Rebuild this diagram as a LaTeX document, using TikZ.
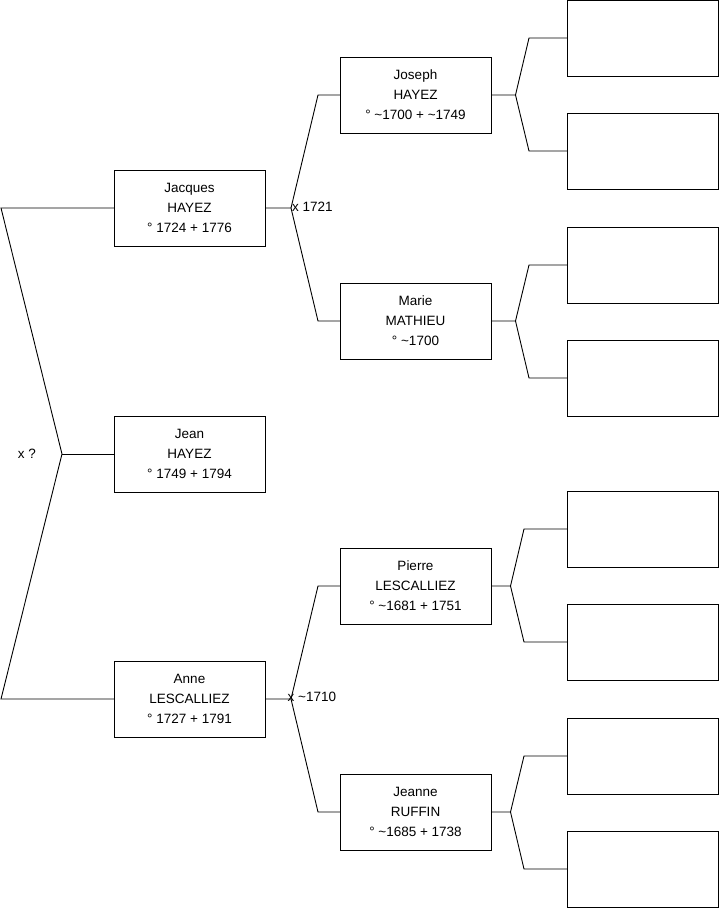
\documentclass[tikz,border=0pt]{standalone}
\usepackage{fontspec}
\setmainfont{Liberation Sans}
\usepackage{tikz}
\usetikzlibrary{positioning, calc}

\begin{document}
\begin{tikzpicture}[x=1pt, y=-1pt, font=\fontsize{13.5}{20}\selectfont]
\tikzstyle{person} = [rectangle, draw=black, fill=white, minimum width=151pt, minimum height=76pt, inner sep=0pt, outer sep=0pt, align=center, line width=0.9pt]
\tikzstyle{line} = [draw, line width=0.9pt, black]
\useasboundingbox (0,0) rectangle (719,908);

% generation 1
\node (jacques) [person] at (189.5,208) {Jacques\\HAYEZ\\° 1724 + 1776};
\node (jean) [person] at (189.5,454) {Jean\\HAYEZ\\° 1749 + 1794};
\node (anne) [person] at (189.5,699) {Anne\\LESCALLIEZ\\° 1727 + 1791};

% generation 2
\node (joseph) [person] at (415.5,95) {Joseph\\HAYEZ\\° \textasciitilde 1700 + \textasciitilde 1749};
\node (marie) [person] at (415.5,321) {Marie\\MATHIEU\\° \textasciitilde 1700};
\node (pierre) [person] at (415.5,586) {Pierre\\LESCALLIEZ\\° \textasciitilde 1681 + 1751};
\node (jeanne) [person] at (415.5,812) {Jeanne\\RUFFIN\\° \textasciitilde 1685 + 1738};

% generation 3 (unknown)
\foreach \y/\n in {38/e1, 151/e2, 265/e3, 378/e4, 529/e5, 642/e6, 756/e7, 869/e8}
  \node (\n) [person] at (642.5,\y) {};

% couple brackets
\coordinate (ptop) at (1,208);
\coordinate (pmid) at (62,454);
\coordinate (pbot) at (1,699);
\draw [line] (jacques.west) -- (ptop) -- (pmid) -- (pbot) -- (anne.west);
\draw [line] (pmid) -- (jean.west);
\node (mjean) [left=26pt of pmid, inner sep=0pt] {x ?};

\coordinate (jv) at (291,208);
\draw [line] (jacques.east) -- (jv) -- ($(joseph.west)+(-22,0)$) -- (joseph.west);
\draw [line] (jv) -- ($(marie.west)+(-22,0)$) -- (marie.west);
\node (mjacques) [anchor=west, inner sep=0pt] at (292,207) {x 1721};

\coordinate (av) at (291,699);
\draw [line] (anne.east) -- (av) -- ($(pierre.west)+(-22,0)$) -- (pierre.west);
\draw [line] (av) -- ($(jeanne.west)+(-22,0)$) -- (jeanne.west);
\node (manne) [anchor=west, inner sep=0pt] at (287.5,697) {x \textasciitilde 1710};

\coordinate (josv) at (515.5,95);
\draw [line] (joseph.east) -- (josv) -- ($(e1.west)+(-38,0)$) -- (e1.west);
\draw [line] (josv) -- ($(e2.west)+(-38,0)$) -- (e2.west);

\coordinate (marv) at (515.5,321);
\draw [line] (marie.east) -- (marv) -- ($(e3.west)+(-38,0)$) -- (e3.west);
\draw [line] (marv) -- ($(e4.west)+(-38,0)$) -- (e4.west);

\coordinate (piev) at (510.5,586);
\draw [line] (pierre.east) -- (piev) -- ($(e5.west)+(-43,0)$) -- (e5.west);
\draw [line] (piev) -- ($(e6.west)+(-43,0)$) -- (e6.west);

\coordinate (jeav) at (510.5,812);
\draw [line] (jeanne.east) -- (jeav) -- ($(e7.west)+(-43,0)$) -- (e7.west);
\draw [line] (jeav) -- ($(e8.west)+(-43,0)$) -- (e8.west);
\end{tikzpicture}
\end{document}
